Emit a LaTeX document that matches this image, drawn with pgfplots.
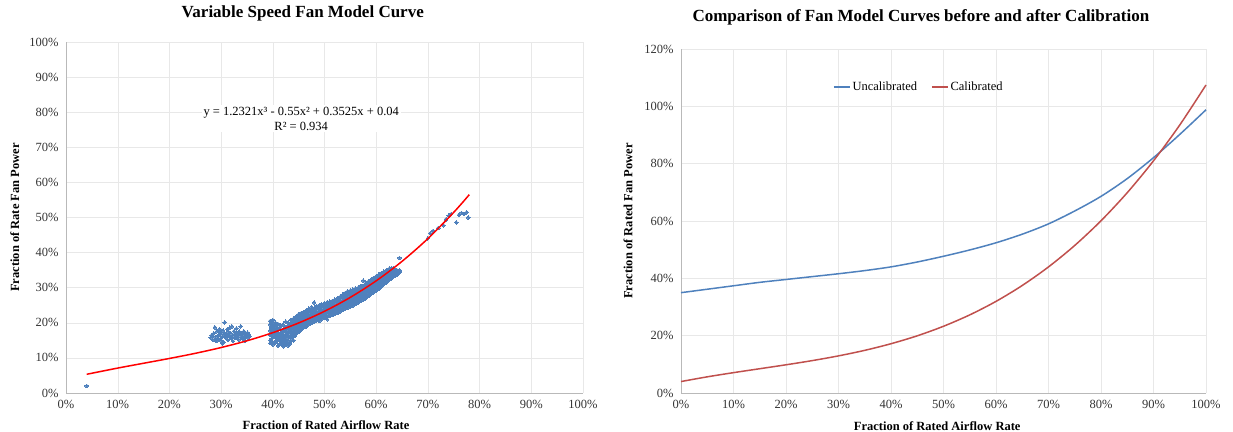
\documentclass[border=0pt]{standalone}
\usepackage{pgfplots}
\pgfplotsset{compat=1.18}
\usepackage{pgfplotstable}
\usepackage{fontspec}
\setmainfont{Liberation Serif}

\definecolor{xlblue}{RGB}{79,129,189}
\definecolor{xlred}{RGB}{192,80,77}

% main band of measured points (several y readings per x)
\pgfplotstableread{
x a b c d e f
0.395 0.150 0.165 0.178 0.195 0.142 0.205
0.400 0.138 0.160 0.172 0.185 0.200 0.208
0.405 0.145 0.158 0.168 0.176 0.190 0.201
0.410 0.135 0.152 0.163 0.172 0.183 0.197
0.415 0.140 0.150 0.160 0.170 0.181 0.192
0.420 0.133 0.146 0.158 0.168 0.178 0.195
0.425 0.138 0.152 0.165 0.175 0.186 0.203
0.430 0.135 0.150 0.168 0.180 0.190 0.200
0.435 0.148 0.163 0.175 0.186 0.196 0.208
0.440 0.150 0.170 0.180 0.190 0.200 0.212
0.445 0.168 0.180 0.190 0.198 0.207 0.218
0.450 0.175 0.188 0.196 0.204 0.212 0.224
0.455 0.182 0.193 0.201 0.209 0.217 0.228
0.460 0.188 0.198 0.206 0.214 0.222 0.231
0.465 0.190 0.202 0.210 0.218 0.226 0.236
0.470 0.196 0.206 0.214 0.221 0.229 0.240
0.475 0.200 0.210 0.217 0.224 0.232 0.245
0.480 0.203 0.213 0.220 0.227 0.235 0.258
0.485 0.207 0.216 0.223 0.230 0.238 0.248
0.490 0.205 0.219 0.226 0.233 0.241 0.250
0.495 0.212 0.222 0.229 0.236 0.244 0.252
0.500 0.215 0.225 0.232 0.239 0.247 0.256
0.505 0.210 0.227 0.235 0.242 0.250 0.258
0.510 0.220 0.229 0.237 0.245 0.252 0.260
0.515 0.222 0.231 0.239 0.247 0.254 0.262
0.520 0.225 0.234 0.242 0.249 0.257 0.266
0.525 0.228 0.237 0.245 0.252 0.260 0.270
0.530 0.232 0.241 0.249 0.256 0.264 0.274
0.535 0.236 0.245 0.253 0.260 0.268 0.280
0.540 0.240 0.249 0.257 0.264 0.272 0.285
0.545 0.243 0.252 0.260 0.268 0.277 0.290
0.550 0.246 0.256 0.264 0.272 0.281 0.292
0.555 0.249 0.259 0.268 0.276 0.285 0.295
0.560 0.253 0.263 0.272 0.280 0.289 0.298
0.565 0.257 0.267 0.276 0.284 0.292 0.300
0.570 0.262 0.271 0.280 0.288 0.296 0.305
0.575 0.266 0.276 0.284 0.292 0.300 0.320
0.580 0.270 0.280 0.288 0.296 0.304 0.313
0.585 0.276 0.285 0.293 0.301 0.309 0.318
0.590 0.282 0.290 0.298 0.306 0.314 0.323
0.595 0.287 0.295 0.303 0.311 0.319 0.328
0.600 0.292 0.300 0.308 0.316 0.324 0.333
0.605 0.297 0.305 0.313 0.321 0.329 0.337
0.610 0.303 0.311 0.319 0.326 0.334 0.342
0.615 0.310 0.317 0.324 0.331 0.338 0.346
0.620 0.316 0.323 0.330 0.336 0.342 0.350
0.625 0.322 0.329 0.335 0.341 0.347 0.354
0.630 0.328 0.334 0.340 0.345 0.350 0.356
0.635 0.333 0.338 0.343 0.348 0.352 0.346
0.640 0.338 0.342 0.346 0.350 0.344 0.340
0.645 0.345 0.348 0.385 0.343 0.350 0.346
}\bandA

\pgfplotstableread{
x a b c d
0.3975 0.155 0.170 0.186 0.147
0.4025 0.142 0.166 0.180 0.194
0.4075 0.150 0.162 0.174 0.188
0.4125 0.138 0.156 0.168 0.186
0.4175 0.144 0.155 0.165 0.176
0.4225 0.137 0.150 0.162 0.183
0.4275 0.142 0.158 0.170 0.190
0.4325 0.140 0.160 0.174 0.195
0.4375 0.155 0.170 0.181 0.202
0.4425 0.162 0.175 0.186 0.205
0.4475 0.172 0.185 0.194 0.214
0.4525 0.178 0.191 0.199 0.220
0.4575 0.186 0.196 0.207 0.225
0.4625 0.190 0.202 0.211 0.228
0.4675 0.195 0.205 0.216 0.233
0.4725 0.198 0.209 0.219 0.236
0.4775 0.202 0.212 0.222 0.240
0.4825 0.205 0.215 0.226 0.243
0.4875 0.209 0.219 0.229 0.245
0.4925 0.213 0.223 0.232 0.249
0.4975 0.216 0.226 0.236 0.251
0.5025 0.218 0.229 0.239 0.254
0.5075 0.221 0.232 0.241 0.256
0.5125 0.224 0.234 0.244 0.259
0.5175 0.226 0.237 0.246 0.261
0.5225 0.230 0.240 0.250 0.265
0.5275 0.233 0.243 0.254 0.269
0.5325 0.237 0.247 0.258 0.273
0.5375 0.241 0.251 0.262 0.278
0.5425 0.244 0.255 0.266 0.283
0.5475 0.248 0.258 0.270 0.287
0.5525 0.251 0.262 0.274 0.290
0.5575 0.254 0.266 0.278 0.293
0.5625 0.258 0.270 0.282 0.296
0.5675 0.262 0.274 0.286 0.300
0.5725 0.267 0.278 0.290 0.304
0.5775 0.271 0.282 0.294 0.308
0.5825 0.275 0.287 0.299 0.312
0.5875 0.281 0.293 0.304 0.317
0.5925 0.285 0.297 0.309 0.322
0.5975 0.290 0.302 0.314 0.327
0.6025 0.295 0.307 0.318 0.331
0.6075 0.300 0.312 0.323 0.336
0.6125 0.307 0.318 0.329 0.341
0.6175 0.313 0.324 0.334 0.346
0.6225 0.319 0.329 0.339 0.350
0.6275 0.325 0.334 0.343 0.353
0.6325 0.331 0.339 0.347 0.355
0.6375 0.336 0.342 0.349 0.345
}\bandB

% low-flow cluster, high-flow points and the lone outlier
\pgfplotstableread{
x y
0.280 0.158
0.282 0.165
0.284 0.152
0.286 0.170
0.288 0.187
0.289 0.160
0.290 0.152
0.291 0.148
0.292 0.176
0.294 0.163
0.295 0.155
0.296 0.174
0.297 0.182
0.298 0.168
0.300 0.150
0.301 0.172
0.302 0.160
0.303 0.141
0.304 0.178
0.305 0.145
0.306 0.166
0.307 0.201
0.309 0.157
0.310 0.170
0.311 0.162
0.312 0.181
0.313 0.151
0.314 0.175
0.315 0.165
0.317 0.186
0.318 0.158
0.319 0.170
0.320 0.155
0.321 0.190
0.322 0.163
0.323 0.148
0.325 0.176
0.326 0.167
0.327 0.157
0.328 0.164
0.329 0.171
0.330 0.184
0.331 0.160
0.333 0.168
0.334 0.152
0.335 0.175
0.336 0.173
0.337 0.164
0.338 0.190
0.339 0.171
0.341 0.158
0.342 0.167
0.343 0.155
0.344 0.176
0.345 0.161
0.346 0.150
0.348 0.169
0.349 0.163
0.350 0.168
0.351 0.172
0.352 0.158
0.354 0.166
0.355 0.161
0.700 0.441
0.705 0.455
0.710 0.462
0.720 0.470
0.730 0.478
0.735 0.495
0.740 0.505
0.745 0.510
0.755 0.486
0.760 0.507
0.765 0.513
0.770 0.510
0.775 0.515
0.778 0.500
0.040 0.020
}\others

\pgfplotsset{
  excel/.style={
    scale only axis,
    axis x line*=bottom, axis y line*=left,
    axis line style={draw=gray!55, -},
    grid=major, major grid style={draw=gray!18},
    tick style={draw=none},
    enlargelimits=false,
    xmin=0, xmax=1,
    xtick={0,0.1,...,1.0},
    xticklabels={0\%,10\%,20\%,30\%,40\%,50\%,60\%,70\%,80\%,90\%,100\%},
    tick label style={font=\fontsize{12.5}{14}\selectfont, text=black!80},
    yticklabel style={xshift=-4pt},
    xticklabel style={yshift=-4pt},
    label style={font=\bfseries\fontsize{12.5}{14}\selectfont},
    title style={font=\bfseries\fontsize{17}{20}\selectfont},
  },
  scat/.style={only marks, mark=*, mark size=1.8pt,
    mark options={fill=xlblue, draw=xlblue, line width=0pt}},
}

\begin{document}
\begin{tikzpicture}
\path[use as bounding box] (0,0) rectangle (1233pt,431pt);

\begin{axis}[excel, clip marker paths=true,
  at={(66pt,38pt)}, anchor=south west,
  width=517pt, height=351pt,
  ymin=0, ymax=1,
  ytick={0,0.1,...,1.0},
  yticklabels={0\%,10\%,20\%,30\%,40\%,50\%,60\%,70\%,80\%,90\%,100\%},
  title={Variable Speed Fan Model Curve},
  title style={at={(axis description cs:0.458,1.063)}, anchor=center},
  xlabel={Fraction of Rated Airflow Rate},
  xlabel style={at={(axis description cs:0.503,-0.093)}, anchor=center},
  ylabel={Fraction of Rate Fan Power},
  ylabel style={at={(axis description cs:-0.099,0.5)}, anchor=center},
]
\addplot[scat] table[y=a]{\bandA};
\addplot[scat] table[y=b]{\bandA};
\addplot[scat] table[y=c]{\bandA};
\addplot[scat] table[y=d]{\bandA};
\addplot[scat] table[y=e]{\bandA};
\addplot[scat] table[y=f]{\bandA};
\addplot[scat] table[y=a]{\bandB};
\addplot[scat] table[y=b]{\bandB};
\addplot[scat] table[y=c]{\bandB};
\addplot[scat] table[y=d]{\bandB};
\addplot[scat] table[y=y]{\others};
\addplot[red, line width=1.5pt, smooth] coordinates {
  (0.04,0.0533) (0.10,0.0710) (0.15,0.0847) (0.20,0.0984) (0.25,0.1130)
  (0.30,0.1295) (0.35,0.1488) (0.40,0.1719) (0.45,0.1995) (0.50,0.2328)
  (0.55,0.2725) (0.60,0.3196) (0.65,0.3751) (0.70,0.4399) (0.75,0.5148)
  (0.78,0.5650)
};
\node[fill=white, align=center, inner sep=2pt,
      font=\fontsize{12.5}{14.5}\selectfont]
  at (axis description cs:0.455,0.781)
  {y = 1.2321x³ - 0.55x² + 0.3525x + 0.04\\R² = 0.934};
\end{axis}

\begin{axis}[excel, clip=false,
  at={(681pt,38pt)}, anchor=south west,
  width=525pt, height=344pt,
  ymin=0, ymax=1.2,
  ytick={0,0.2,...,1.2},
  yticklabels={0\%,20\%,40\%,60\%,80\%,100\%,120\%},
  title={Comparison of Fan Model Curves before and after Calibration},
  title style={at={(axis description cs:0.457,1.076)}, anchor=center},
  xlabel={Fraction of Rated Airflow Rate},
  xlabel style={at={(axis description cs:0.488,-0.096)}, anchor=center},
  ylabel={Fraction of Rated Fan Power},
  ylabel style={at={(axis description cs:-0.101,0.5)}, anchor=center},
  legend style={at={(axis description cs:0.453,0.89)}, anchor=center,
    draw=none, fill=none, legend columns=2,
    font=\fontsize{12.5}{14}\selectfont,
    /tikz/every even column/.append style={column sep=12pt}},
  legend image code/.code={\draw[#1] (0pt,0pt) -- (16pt,0pt);},
]
\addplot[xlblue, line width=1.5pt, smooth] coordinates {
  (0.00,0.350) (0.05,0.362) (0.10,0.374) (0.15,0.386) (0.20,0.396)
  (0.25,0.406) (0.30,0.416) (0.35,0.427) (0.40,0.440) (0.45,0.457)
  (0.50,0.477) (0.55,0.499) (0.60,0.524) (0.65,0.554) (0.70,0.590)
  (0.75,0.635) (0.80,0.686) (0.85,0.748) (0.90,0.821) (0.95,0.902)
  (1.00,0.988)
};
\addlegendentry{Uncalibrated}
\addplot[xlred, line width=1.5pt, smooth] coordinates {
  (0.00,0.0400) (0.05,0.0564) (0.10,0.0710) (0.15,0.0847) (0.20,0.0984)
  (0.25,0.1130) (0.30,0.1295) (0.35,0.1488) (0.40,0.1719) (0.45,0.1995)
  (0.50,0.2328) (0.55,0.2725) (0.60,0.3196) (0.65,0.3751) (0.70,0.4399)
  (0.75,0.5148) (0.80,0.6008) (0.85,0.6989) (0.90,0.8100) (0.95,0.9349)
  (1.00,1.0746)
};
\addlegendentry{Calibrated}
\end{axis}
\end{tikzpicture}
\end{document}
